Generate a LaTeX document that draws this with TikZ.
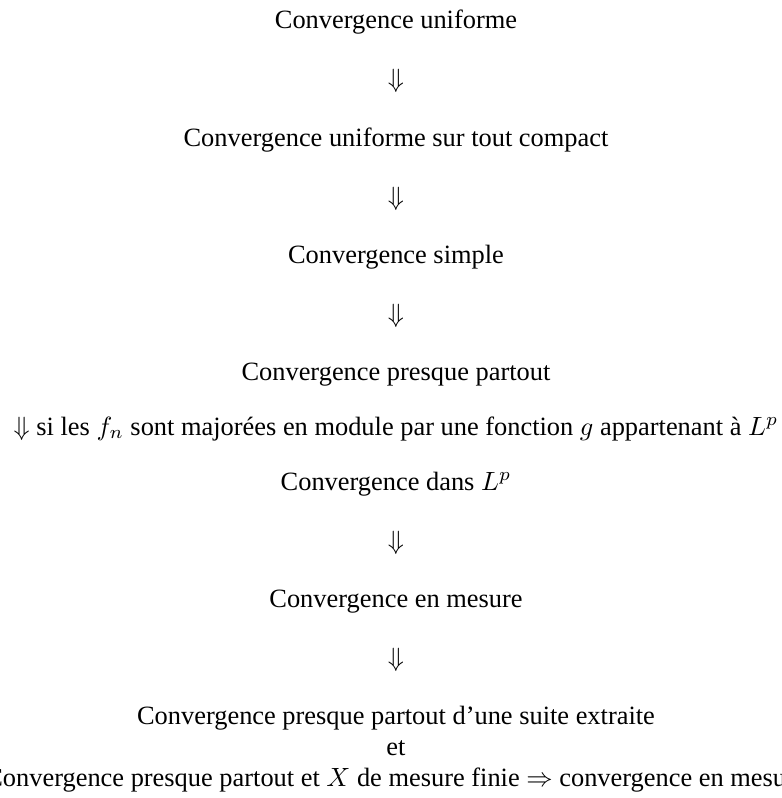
\documentclass[tikz,border=0pt]{standalone}
\usepackage{fontspec}
\setmainfont{Liberation Serif}
\begin{document}
\begin{tikzpicture}[x=0.37879pt,y=-0.37879pt,
  line/.style={anchor=base,inner sep=0pt,outer sep=0pt,font=\fontsize{10}{12}\selectfont},
  implies/.style={line}]
\useasboundingbox (0,0) rectangle (782,798);
\node[line] (a) at (396,29) {Convergence uniforme};
\node[implies] (ab) at (396,88) {$\Downarrow$};
\node[line] (b) at (396,146) {Convergence uniforme sur tout compact};
\node[implies] (bc) at (396,205) {$\Downarrow$};
\node[line] (c) at (396,263) {Convergence simple};
\node[implies] (cd) at (396,322) {$\Downarrow$};
\node[line] (d) at (396,380) {Convergence presque partout};
\node[implies] (de) at (396,435) {$\Downarrow$ si les $f_n$ sont majorées en module par une fonction $g$ appartenant à $L^p$};
\node[line] (e) at (396,490) {Convergence dans $L^p$};
\node[implies] (ef) at (396,549) {$\Downarrow$};
\node[line] (f) at (396,607) {Convergence en mesure};
\node[implies] (fg) at (396,666) {$\Downarrow$};
\node[line] (g1) at (396,724) {Convergence presque partout d’une suite extraite};
\node[line] (g2) at (396,755) {et};
\node[line] (g3) at (396,786) {Convergence presque partout et $X$ de mesure finie $\Rightarrow$ convergence en mesure};
\end{tikzpicture}
\end{document}
